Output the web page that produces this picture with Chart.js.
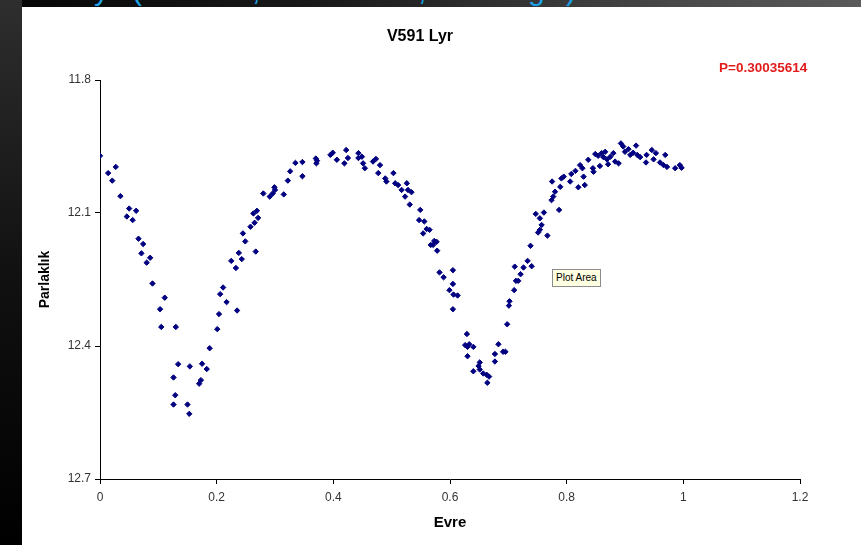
<!DOCTYPE html>
<html lang="tr">
<head>
  <meta charset="UTF-8" />
  <title>V591 Lyr</title>
  <script src="https://cdn.jsdelivr.net/npm/chart.js"></script>
  <style>
    html, body { margin: 0; padding: 0; }
    body { width: 861px; height: 545px; position: relative; overflow: hidden;
           background: linear-gradient(to right, #050505, #1c1c1c 40%, #4a4a4a 80%, #5a5a5a); font-family: Arial, "Liberation Sans", sans-serif; }
    #solSerit { position: absolute; left: 0; top: 0; width: 22px; height: 545px;
                background: linear-gradient(to bottom, #2e2e2e, #111 50%, #000); }
    #ustYazi { position: absolute; left: 0; top: 0; width: 861px; height: 7px; overflow: hidden; }
    #ustYazi span { position: absolute; top: -27px; color: #1aa3e8; font-size: 30px; }
    #kutu { position: absolute; left: 22px; top: 7px; width: 839px; height: 538px; background: #fff; }
    #ipucu { position: absolute; left: 552px; top: 269px; padding: 1px 3px; background: #ffffe1;
             border: 1px solid #8c8c8c; font-size: 10px; color: #000; line-height: 14px; }
  </style>
</head>
<body>
  <div id="solSerit"></div>
  <div id="ustYazi">
    <span style="left:94px">y</span>
    <span style="left:132px">(</span>
    <span style="left:252px">,</span>
    <span style="left:418px">,</span>
    <span style="left:528px">g</span>
    <span style="left:566px">)</span>
  </div>
  <div id="kutu"><canvas id="grafik"></canvas></div>
  <div id="ipucu">Plot Area</div>

  <script>
    const baslik = 'V591 Lyr';
    const periyot = 'P=0.30035614';
    const xBaslik = 'Evre';
    const yBaslik = 'Parlaklık';

    // evre ve parlaklık değerleri
    const evre = [
      0.000, 0.014, 0.021, 0.027, 0.035, 0.046, 0.050, 0.056, 0.062, 0.066,
      0.074, 0.071, 0.080, 0.086, 0.090, 0.103, 0.111, 0.105, 0.130, 0.126,
      0.134, 0.129, 0.126, 0.150, 0.153, 0.154, 0.170, 0.173, 0.175, 0.183,
      0.188, 0.201, 0.204, 0.206, 0.211, 0.217, 0.235, 0.225, 0.233, 0.238,
      0.243, 0.245, 0.249, 0.258, 0.267, 0.265, 0.263, 0.269, 0.271, 0.280,
      0.291, 0.296, 0.299, 0.300, 0.315, 0.322, 0.326, 0.335, 0.347, 0.347,
      0.370, 0.371, 0.372, 0.395, 0.399, 0.406, 0.419, 0.422, 0.425, 0.443,
      0.443, 0.449, 0.451, 0.454, 0.468, 0.473, 0.480, 0.477, 0.489, 0.491,
      0.503, 0.506, 0.511, 0.517, 0.526, 0.528, 0.534, 0.523, 0.531, 0.549,
      0.547, 0.556, 0.560, 0.565, 0.554, 0.573, 0.577, 0.567, 0.571, 0.578,
      0.582, 0.589, 0.605, 0.605, 0.599, 0.606, 0.613, 0.605, 0.629, 0.626,
      0.630, 0.633, 0.640, 0.630, 0.640, 0.651, 0.651, 0.649, 0.657, 0.663,
      0.667, 0.664, 0.677, 0.677, 0.683, 0.691, 0.695, 0.698, 0.701, 0.702,
      0.710, 0.713, 0.717, 0.721, 0.711, 0.726, 0.733, 0.740, 0.738, 0.751,
      0.754, 0.767, 0.747, 0.754, 0.757, 0.761, 0.787, 0.774, 0.777, 0.780,
      0.775, 0.789, 0.791, 0.795, 0.806, 0.808, 0.815, 0.823, 0.827, 0.829,
      0.820, 0.831, 0.837, 0.845, 0.846, 0.849, 0.854, 0.857, 0.860, 0.863,
      0.866, 0.869, 0.871, 0.875, 0.880, 0.883, 0.889, 0.893, 0.897, 0.900,
      0.906, 0.909, 0.914, 0.919, 0.921, 0.926, 0.936, 0.937, 0.946, 0.949,
      0.953, 0.960, 0.969, 0.966, 0.972, 0.986, 0.994, 0.997
    ];
    const parlaklik = [
      11.971, 12.010, 12.027, 11.996, 12.062, 12.108, 12.090, 12.116, 12.095, 12.158,
      12.170, 12.191, 12.212, 12.201, 12.259, 12.317, 12.291, 12.357, 12.357, 12.471,
      12.441, 12.511, 12.532, 12.532, 12.553, 12.446, 12.485, 12.477, 12.440, 12.452,
      12.405, 12.362, 12.328, 12.283, 12.268, 12.301, 12.320, 12.208, 12.224, 12.190,
      12.204, 12.146, 12.164, 12.131, 12.187, 12.122, 12.101, 12.095, 12.111, 12.056,
      12.063, 12.056, 12.042, 12.048, 12.058, 12.027, 12.006, 11.987, 12.017, 11.985,
      11.977, 11.988, 11.982, 11.969, 11.964, 11.980, 11.988, 11.958, 11.976, 11.976,
      11.965, 11.973, 11.988, 11.999, 11.984, 11.978, 11.992, 12.010, 12.022, 12.029,
      12.010, 12.033, 12.037, 12.048, 12.033, 12.048, 12.053, 12.063, 12.081, 12.093,
      12.116, 12.119, 12.136, 12.138, 12.146, 12.163, 12.165, 12.172, 12.172, 12.185,
      12.234, 12.245, 12.229, 12.260, 12.274, 12.284, 12.286, 12.317, 12.373, 12.398,
      12.402, 12.396, 12.402, 12.423, 12.457, 12.437, 12.453, 12.445, 12.462, 12.465,
      12.469, 12.483, 12.418, 12.435, 12.396, 12.413, 12.413, 12.351, 12.309, 12.299,
      12.274, 12.253, 12.253, 12.238, 12.221, 12.223, 12.208, 12.220, 12.174, 12.144,
      12.138, 12.151, 12.102, 12.112, 12.127, 12.099, 12.093, 12.071, 12.063, 12.052,
      12.029, 12.041, 12.022, 12.018, 12.029, 12.012, 12.005, 11.992, 11.999, 12.018,
      12.042, 12.037, 11.980, 11.999, 12.007, 11.967, 11.971, 11.994, 11.965, 11.974,
      11.962, 11.979, 11.990, 11.973, 11.965, 11.984, 11.988, 11.943, 11.950, 11.962,
      11.956, 11.969, 11.964, 11.948, 11.969, 11.974, 11.986, 11.969, 11.958, 11.979,
      11.965, 11.986, 11.969, 11.992, 11.996, 11.999, 11.992, 11.998
    ];

    const noktalar = evre.map((e, i) => ({ x: e, y: parlaklik[i] }));

    // başlık ve periyot yazısı
    const yazilar = {
      id: 'yazilar',
      afterDraw(chart) {
        const ctx = chart.ctx;
        ctx.save();
        ctx.textBaseline = 'middle';
        ctx.fillStyle = '#000';
        ctx.font = 'bold 16px Arial';
        ctx.textAlign = 'center';
        ctx.fillText(baslik, 398, 30);
        ctx.fillStyle = '#e31b1b';
        ctx.font = 'bold 13.5px Arial';
        ctx.textAlign = 'left';
        ctx.fillText(periyot, 697, 61);
        ctx.restore();
      }
    };

    const tikYazi = { family: 'Arial', size: 12 };

    new Chart(document.getElementById('grafik'), {
      type: 'scatter',
      data: {
        datasets: [{
          data: noktalar,
          pointStyle: 'rectRot',
          pointRadius: 2.7,
          borderWidth: 1,
          backgroundColor: '#000080',
          borderColor: '#000080'
        }]
      },
      options: {
        responsive: true,
        maintainAspectRatio: false,
        animation: false,
        layout: { padding: { left: 0, top: 73, right: 61, bottom: 0 } },
        plugins: { legend: { display: false }, tooltip: { enabled: false } },
        scales: {
          x: {
            type: 'linear', min: 0, max: 1.2,
            afterFit: s => { s.height = 66; },
            ticks: { stepSize: 0.2, padding: 6, color: '#333', font: tikYazi,
                     callback: v => String(+v.toFixed(1)) },
            grid: { drawOnChartArea: false, tickLength: 5, color: '#000' },
            border: { color: '#000' },
            title: { display: true, text: xBaslik, color: '#000', padding: { top: 0, bottom: 13 },
                     font: { family: 'Arial', size: 15, weight: 'bold' } }
          },
          y: {
            type: 'linear', min: 11.8, max: 12.7, reverse: true,
            afterFit: s => { s.width = 78; },
            ticks: { stepSize: 0.3, padding: 4, color: '#333', font: tikYazi,
                     callback: v => v.toFixed(1) },
            grid: { drawOnChartArea: false, tickLength: 5, color: '#000' },
            border: { color: '#000' },
            title: { display: true, text: yBaslik, color: '#000', padding: { top: 15, bottom: 0 },
                     font: { family: 'Arial', size: 14, weight: 'bold' } }
          }
        }
      },
      plugins: [yazilar]
    });
  </script>
</body>
</html>
